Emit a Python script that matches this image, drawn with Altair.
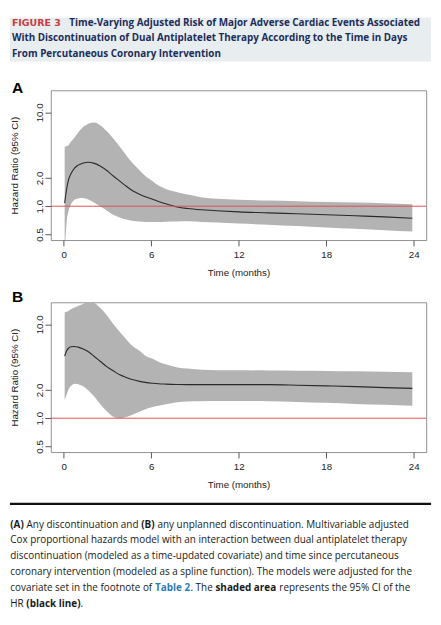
import altair as alt
import pandas as pd

# ---------------- data ----------------
months = [0.07, 0.2, 0.35, 0.5, 0.75, 1.0, 1.3, 1.7, 2.1, 2.5, 3.0, 3.4, 3.85, 4.3, 4.7,
          5.2, 5.6, 6.1, 6.5, 7.0, 7.8, 8.5, 9.5, 10.5, 12, 14, 16, 18, 20, 22, 23.9]

# Panel A: any discontinuation
hr_a = [1.08, 1.5, 1.95, 2.22, 2.55, 2.74, 2.87, 2.94, 2.86, 2.68, 2.37, 2.10, 1.85, 1.63, 1.47,
        1.34, 1.26, 1.19, 1.12, 1.06, 0.98, 0.945, 0.915, 0.895, 0.87, 0.85, 0.83, 0.81, 0.79, 0.77, 0.745]
hi_a = [4.31, 4.35, 4.5, 4.85, 5.4, 6.1, 6.9, 7.57, 7.8, 7.3, 6.2, 5.25, 4.3, 3.47, 2.9,
        2.42, 2.1, 1.84, 1.66, 1.53, 1.41, 1.33, 1.24, 1.2, 1.17, 1.15, 1.13, 1.11, 1.095, 1.075, 1.05]
lo_a = [0.3, 0.66, 0.9, 1.04, 1.17, 1.21, 1.22, 1.18, 1.09, 1.0, 0.89, 0.81, 0.76, 0.72, 0.70,
        0.687, 0.68, 0.678, 0.68, 0.685, 0.688, 0.69, 0.68, 0.67, 0.655, 0.635, 0.615, 0.594, 0.575, 0.556, 0.537]

# Panel B: any unplanned discontinuation
hr_b = [4.58, 5.2, 5.6, 5.78, 5.82, 5.72, 5.5, 5.1, 4.55, 4.05, 3.5, 3.2, 2.9, 2.72, 2.58,
        2.47, 2.41, 2.36, 2.33, 2.31, 2.29, 2.28, 2.28, 2.28, 2.28, 2.28, 2.25, 2.21, 2.17, 2.12, 2.08]
hi_b = [13.4, 13.6, 14.0, 14.5, 15.1, 15.7, 16.4, 17.3, 16.9, 15.0, 12.3, 10.1, 8.3, 6.9, 5.9,
        5.22, 4.62, 4.3, 4.0, 3.75, 3.48, 3.39, 3.28, 3.25, 3.24, 3.23, 3.21, 3.19, 3.16, 3.12, 3.08]
lo_b = [1.57, 1.77, 2.05, 2.2, 2.33, 2.3, 2.2, 1.98, 1.7, 1.42, 1.17, 1.04, 1.0, 1.03, 1.09,
        1.17, 1.25, 1.32, 1.36, 1.41, 1.48, 1.51, 1.52, 1.53, 1.53, 1.52, 1.49, 1.46, 1.42, 1.39, 1.36]

reference_hr = [1.0]
x_ticks = [0, 6, 12, 18, 24]
y_ticks = [0.5, 1.0, 2.0, 10.0]

fig_label = "FIGURE 3"
title_lines = [
    "Time-Varying Adjusted Risk of Major Adverse Cardiac Events Associated",
    "With Discontinuation of Dual Antiplatelet Therapy According to the Time in Days",
    "From Percutaneous Coronary Intervention",
]
x_title = "Time (months)"
y_title = "Hazard Ratio (95% CI)"

# caption: (line, text, style)
caption = [
    (0, "(A)", "bold"), (0, "Any discontinuation and", "normal"), (0, "(B)", "bold"),
    (0, "any unplanned discontinuation. Multivariable adjusted", "normal"),
    (1, "Cox proportional hazards model with an interaction between dual antiplatelet therapy", "normal"),
    (2, "discontinuation (modeled as a time-updated covariate) and time since percutaneous", "normal"),
    (3, "coronary intervention (modeled as a spline function). The models were adjusted for the", "normal"),
    (4, "covariate set in the footnote of", "normal"), (4, "Table 2", "link"), (4, ". The", "normal"),
    (4, "shaded area", "bold"), (4, "represents the 95% CI of the", "normal"),
    (5, "HR", "normal"), (5, "(black line)", "bold"), (5, ".", "normal"),
]

# ---------------- layout (pixels, relative to each panel's plot area) ----------------
W, H = 386, 154
X_DOMAIN = [-0.88, 24.85]
Y_DOMAIN = [0.436, 17.18]
LEFT, RIGHT = -42, 391
caption_x = [-41.7, -24.9, 93, 109.7, -41.7, -41.7, -41.7, -41.7, 107.1, 143.6, 169.3, 235,
             -41.7, -25.2, 30.6]
caption_base = [231.6, 248.0, 264.3, 280.6, 297.0, 313.3]
CAP_SIZE = 10.2

AX_FONT = "Liberation Sans"
HEAD_FONT = "Open Sans"
CAP_FONT = "Open Sans"
one = pd.DataFrame({"k": [0]})


def txt(text, x, y, size, color, weight="normal", font=CAP_FONT, baseline="alphabetic"):
    return alt.Chart(one).mark_text(
        text=text, align="left", baseline=baseline, font=font, fontSize=size,
        fontWeight=weight, color=color,
    ).encode(x=alt.value(x), y=alt.value(y))


def panel(hr, lo, hi):
    df = pd.DataFrame({"month": months, "hr": hr, "lo": lo, "hi": hi})
    xs = alt.Scale(domain=X_DOMAIN, nice=False, zero=False)
    ys = alt.Scale(type="log", domain=Y_DOMAIN, nice=False)
    x_enc = alt.X("month:Q", scale=xs, title=x_title,
                  axis=alt.Axis(values=x_ticks, format="d", titleY=28.5, titleBaseline="top",
                                labelPadding=4))
    y_axis = alt.Axis(values=y_ticks, format=".1f", labelAngle=270, labelAlign="center",
                      labelBaseline="bottom", labelPadding=1, titleX=-32, titleAngle=270,
                      titleBaseline="bottom")
    band = alt.Chart(df).mark_area(color="#b3b3b3", opacity=1, clip=True, interpolate="monotone").encode(
        x=x_enc,
        y=alt.Y("hi:Q", scale=ys, title=y_title, axis=y_axis),
        y2="lo:Q",
    )
    line = alt.Chart(df).mark_line(color="#2a2a2a", strokeWidth=1.1, clip=True, interpolate="monotone").encode(
        x=alt.X("month:Q", title=x_title),
        y=alt.Y("hr:Q", title=y_title),
    )
    ref = alt.Chart(pd.DataFrame({"ref": reference_hr})).mark_rule(color="#e0504c", strokeWidth=1).encode(
        y=alt.Y("ref:Q", title=y_title)
    )
    return band, line, ref


# ---------------- panel A (with the figure heading) ----------------
band_a, line_a, ref_a = panel(hr_a, lo_a, hi_a)
head_bg = alt.Chart(one).mark_rect(color="#e8eef0").encode(
    x=alt.value(LEFT), x2=alt.value(RIGHT), y=alt.value(-74.7), y2=alt.value(-29.7))
head = [
    txt(fig_label, -40, -66.2, 9.7, "#cf3a3f", "bold", "DejaVu Sans"),
    txt(title_lines[0], 19, -66.2, 10.15, "#1c2d5a", "bold", HEAD_FONT),
    txt(title_lines[1], -40, -50.4, 10.15, "#1c2d5a", "bold", HEAD_FONT),
    txt(title_lines[2], -40, -34.7, 10.15, "#1c2d5a", "bold", HEAD_FONT),
]
spacer = alt.Chart(one).mark_rule(opacity=0).encode(
    x=alt.value(0), y=alt.value(0), y2=alt.value(203.5))
label_a = txt("A", -40, 2.3, 16, "#000000", "bold", AX_FONT)

chart_a = alt.layer(head_bg, *head, band_a, line_a, ref_a, label_a, spacer).properties(width=W, height=H)

# ---------------- panel B (with the caption) ----------------
band_b, line_b, ref_b = panel(hr_b, lo_b, hi_b)
label_b = txt("B", -40, -0.5, 16, "#000000", "bold", AX_FONT)
sep = alt.Chart(one).mark_rule(color="#111111", strokeWidth=2.4).encode(
    x=alt.value(LEFT), x2=alt.value(RIGHT), y=alt.value(207.3))
styles = {"normal": ("normal", "#1a1a1a"), "bold": ("bold", "#1a1a1a"), "link": ("bold", "#2f7db8")}
cap_layers = []
for (ln, text, st), cx in zip(caption, caption_x):
    wgt, col = styles[st]
    cap_layers.append(txt(text, cx, caption_base[ln], CAP_SIZE, col, wgt))

chart_b = alt.layer(band_b, line_b, ref_b, label_b, sep, *cap_layers).properties(width=W, height=H)

chart = alt.vconcat(chart_a, chart_b, spacing=0).properties(
    padding=0, background="#ffffff"
).configure_view(
    stroke="#8e8e8e", strokeWidth=1
).configure_axis(
    labelFont=AX_FONT, titleFont=AX_FONT, labelFontSize=10, titleFontSize=10,
    labelColor="#222222", titleColor="#222222", titleFontWeight="normal",
    tickColor="#555555", tickSize=6, tickWidth=1, domain=False, grid=False,
    labelFlush=False, labelOverlap=False,
)

chart.save("out.html", embed_options={"renderer": "svg", "actions": False})
